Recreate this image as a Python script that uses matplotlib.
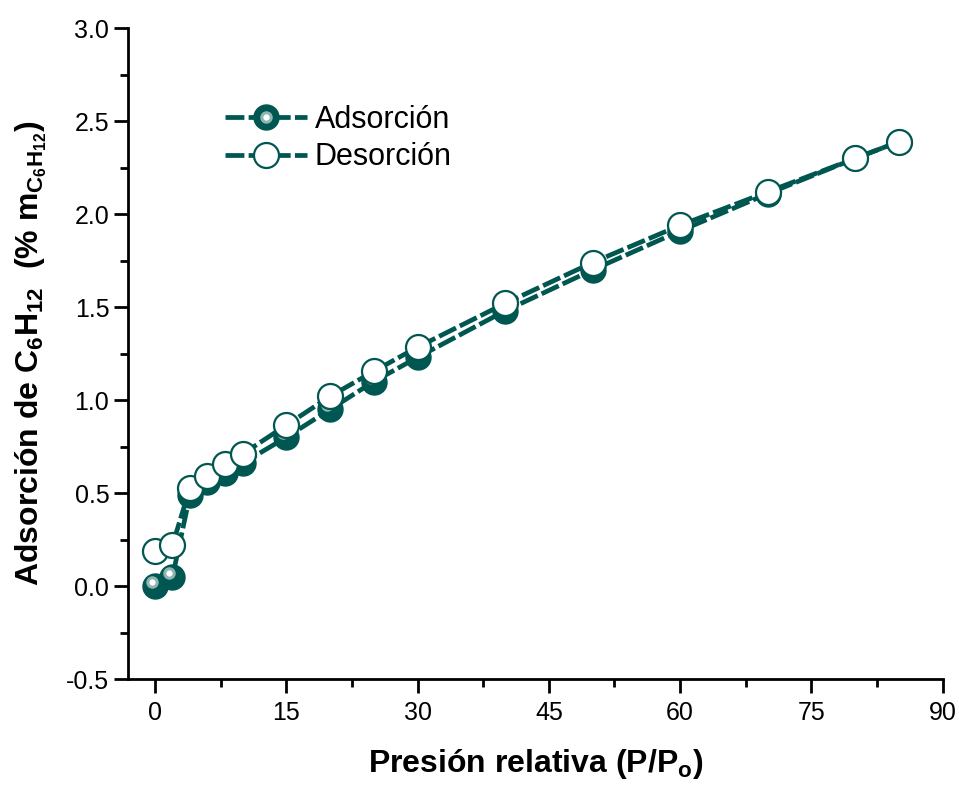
import matplotlib
matplotlib.use("Agg")
import matplotlib.pyplot as plt
import matplotlib.transforms as mtransforms
from matplotlib.legend_handler import HandlerTuple
from matplotlib.lines import Line2D

plt.rcParams['font.family'] = ['Liberation Sans', 'DejaVu Sans']
plt.rcParams['mathtext.fontset'] = 'custom'
plt.rcParams['mathtext.rm'] = 'Liberation Sans:bold'
plt.rcParams['mathtext.it'] = 'Liberation Sans:bold'
plt.rcParams['mathtext.bf'] = 'Liberation Sans:bold'

pressure = [0, 2, 4, 6, 8, 10, 15, 20, 25, 30, 40, 50, 60, 70, 80, 85]
adsorcion = [0.00, 0.05, 0.49, 0.56, 0.61, 0.66, 0.80, 0.95, 1.10, 1.23, 1.48, 1.70, 1.91, 2.11, 2.30, 2.39]
desorcion = [0.19, 0.22, 0.53, 0.59, 0.655, 0.71, 0.865, 1.02, 1.155, 1.285, 1.52, 1.74, 1.94, 2.12, 2.30, 2.39]
labels = ["Adsorción", "Desorción"]
xticks = [0, 15, 30, 45, 60, 75, 90]
yticks = [-0.5, 0.0, 0.5, 1.0, 1.5, 2.0, 2.5, 3.0]

color = "#005650"
ms = 18
lw = 3.4
dash = (4, 0.9)

fig = plt.figure(figsize=(9.59, 7.85), dpi=100)
ax = fig.add_axes([0.1335, 0.135, 0.8495, 0.829])

ax.plot(pressure, adsorcion, color=color, lw=lw, dashes=dash, marker='o',
        markersize=ms, markerfacecolor=color, markeredgecolor=color, zorder=3)
hl_off = mtransforms.ScaledTranslation(-3/100, 4/100, fig.dpi_scale_trans)
ax.plot(pressure, adsorcion, ls='none', marker='o', markersize=9,
        markerfacecolor='#8fb5b2', markeredgecolor='none',
        transform=ax.transData + hl_off, zorder=3.1)
ax.plot(pressure, adsorcion, ls='none', marker='o', markersize=4.5,
        markerfacecolor='white', markeredgecolor='none',
        transform=ax.transData + hl_off, zorder=3.2)
ax.plot(pressure, desorcion, color=color, lw=lw, dashes=dash, marker='o',
        markersize=ms, markerfacecolor='white', markeredgecolor=color,
        markeredgewidth=1.6, zorder=4)

ax.set_xlim(-3.08, 90)
ax.set_ylim(-0.5, 3.0)
ax.set_xticks(xticks)
ax.set_yticks(yticks)
ax.set_xticks([7.5, 22.5, 37.5, 52.5, 67.5, 82.5], minor=True)
ax.set_yticks([-0.25, 0.25, 0.75, 1.25, 1.75, 2.25, 2.75], minor=True)
ax.set_yticklabels([f"{v:.1f}" for v in yticks])
ax.spines['top'].set_visible(False)
ax.spines['right'].set_visible(False)
for s in ['left', 'bottom']:
    ax.spines[s].set_linewidth(2)
ax.tick_params(which='major', direction='out', length=10, width=2, labelsize=18)
ax.tick_params(which='minor', direction='out', length=6, width=2)
ax.tick_params(axis='x', pad=6)

ax.set_xlabel("Presión relativa (P/P$_o$)", fontsize=23, fontweight='bold', labelpad=16)
ax.set_ylabel("Adsorción de C$_6$H$_{12}$  (% m$_{C_6H_{12}}$)", fontsize=23,
              fontweight='bold', labelpad=12)

h1 = Line2D([], [], color=color, lw=lw, dashes=dash, marker='o', markersize=ms,
            markerfacecolor=color, markeredgecolor=color)
h1b = Line2D([], [], ls='none', marker='o', markersize=9, markerfacecolor='#8fb5b2',
             markeredgecolor='none')
h1c = Line2D([], [], ls='none', marker='o', markersize=4.5, markerfacecolor='white',
             markeredgecolor='none')
h2 = Line2D([], [], color=color, lw=lw, dashes=dash, marker='o', markersize=ms,
            markerfacecolor='white', markeredgecolor=color, markeredgewidth=1.6)
ax.legend([(h1, h1b, h1c), h2], labels, handler_map={tuple: HandlerTuple(ndivide=1, pad=0)},
          loc='upper left', bbox_to_anchor=(0.085, 0.925), frameon=False, fontsize=22,
          handlelength=2.7, handletextpad=0.25, labelspacing=0.25)

fig.savefig("out.png", dpi=100)
